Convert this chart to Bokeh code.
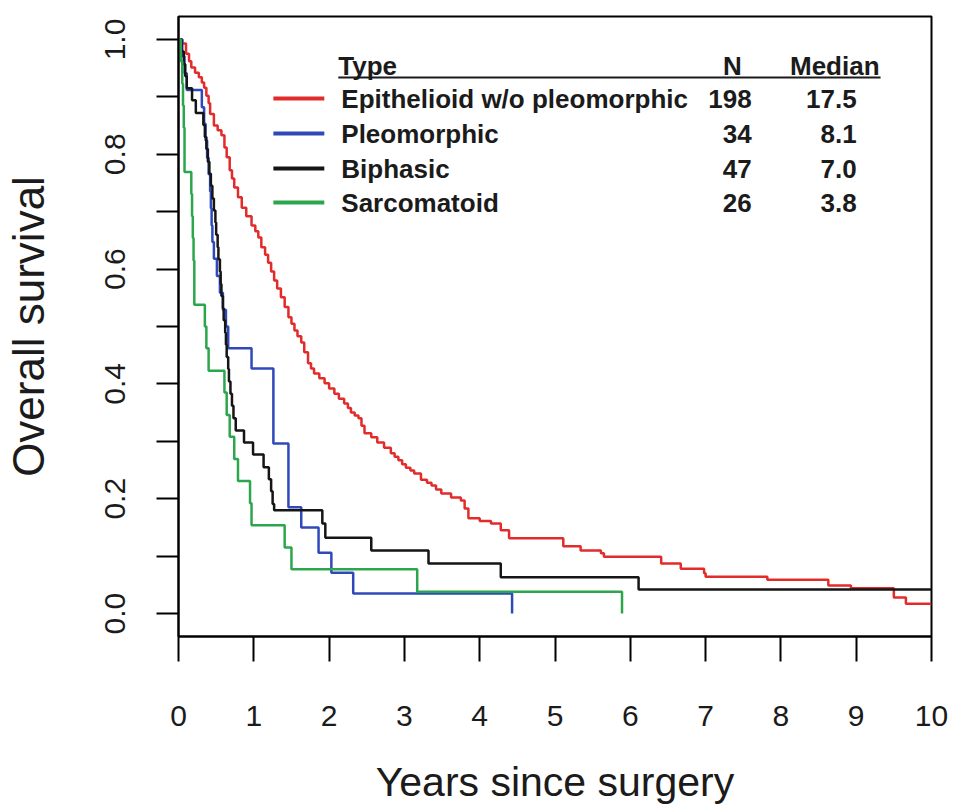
from bokeh.plotting import figure
from bokeh.models import Range1d, FixedTicker, PrintfTickFormatter, ColumnDataSource
from bokeh.embed import file_html
from bokeh.resources import INLINE
from bokeh.core.properties import value

# Kaplan-Meier estimates: years since surgery and overall survival after each step
epi_t = [0.00, 0.05, 0.10, 0.14, 0.17, 0.22, 0.27, 0.31, 0.34, 0.37, 0.40, 0.42, 0.47,
         0.52, 0.57, 0.61, 0.64, 0.68, 0.71, 0.74, 0.79, 0.84, 0.90, 0.97, 1.02, 1.06,
         1.10, 1.15, 1.19, 1.23, 1.27, 1.31, 1.36, 1.41, 1.46, 1.50, 1.54, 1.58, 1.63,
         1.67, 1.72, 1.76, 1.80, 1.87, 1.94, 2.00, 2.07, 2.13, 2.20, 2.25, 2.29, 2.34,
         2.39, 2.43, 2.47, 2.56, 2.64, 2.73, 2.82, 2.87, 2.92, 2.97, 3.02, 3.08, 3.13,
         3.22, 3.30, 3.36, 3.42, 3.49, 3.62, 3.75, 3.80, 3.85, 4.00, 4.15, 4.28, 4.39,
         5.11, 5.34, 5.61, 5.65, 6.41, 6.67, 6.98, 7.00, 7.82, 8.63, 8.93, 9.50, 9.66,
         10.00]
epi_s = [1.000, 0.993, 0.975, 0.962, 0.951, 0.942, 0.934, 0.925, 0.916, 0.902, 0.889,
         0.870, 0.850, 0.842, 0.833, 0.812, 0.795, 0.772, 0.758, 0.742, 0.725, 0.707,
         0.692, 0.676, 0.666, 0.655, 0.638, 0.625, 0.611, 0.596, 0.580, 0.566, 0.551,
         0.534, 0.516, 0.505, 0.493, 0.483, 0.472, 0.455, 0.436, 0.427, 0.418, 0.410,
         0.401, 0.392, 0.383, 0.374, 0.366, 0.358, 0.350, 0.345, 0.340, 0.327, 0.314,
         0.307, 0.298, 0.289, 0.279, 0.273, 0.267, 0.260, 0.254, 0.249, 0.244, 0.233,
         0.228, 0.223, 0.216, 0.209, 0.202, 0.197, 0.183, 0.166, 0.161, 0.157, 0.145,
         0.131, 0.117, 0.110, 0.105, 0.099, 0.087, 0.078, 0.070, 0.064, 0.059, 0.049,
         0.044, 0.028, 0.017, 0.017]

pleo_t = [0.00, 0.05, 0.08, 0.11, 0.31, 0.34, 0.36, 0.38, 0.40, 0.42, 0.43, 0.44, 0.45,
          0.47, 0.51, 0.55, 0.59, 0.63, 0.66, 0.97, 1.26, 1.46, 1.63, 1.86, 2.03, 2.32,
          4.43]
pleo_s = [1.000, 0.971, 0.941, 0.912, 0.882, 0.853, 0.824, 0.794, 0.765, 0.735, 0.706,
          0.676, 0.647, 0.618, 0.588, 0.559, 0.529, 0.500, 0.462, 0.427, 0.296, 0.185,
          0.150, 0.106, 0.071, 0.035, 0.000]

bi_t = [0.00, 0.04, 0.07, 0.09, 0.11, 0.18, 0.23, 0.33, 0.35, 0.37, 0.39, 0.41, 0.43,
        0.45, 0.47, 0.49, 0.50, 0.52, 0.53, 0.55, 0.56, 0.57, 0.59, 0.60, 0.62, 0.63,
        0.64, 0.66, 0.67, 0.69, 0.71, 0.73, 0.76, 0.87, 0.99, 1.13, 1.20, 1.23, 1.25,
        1.27, 1.91, 1.95, 2.56, 3.32, 4.28, 6.11, 10.00]
bi_s = [1.000, 0.979, 0.957, 0.936, 0.915, 0.894, 0.872, 0.851, 0.830, 0.809, 0.787,
        0.766, 0.745, 0.723, 0.702, 0.681, 0.660, 0.638, 0.617, 0.596, 0.574, 0.553,
        0.532, 0.511, 0.489, 0.468, 0.447, 0.426, 0.404, 0.383, 0.362, 0.340, 0.319,
        0.298, 0.277, 0.255, 0.234, 0.213, 0.191, 0.180, 0.157, 0.132, 0.110, 0.087,
        0.063, 0.042, 0.042]

sarc_t = [0.00, 0.03, 0.05, 0.06, 0.07, 0.08, 0.17, 0.18, 0.19, 0.20, 0.21, 0.35, 0.37,
          0.40, 0.61, 0.64, 0.68, 0.74, 0.79, 0.95, 0.97, 1.41, 1.50, 3.17, 5.89]
sarc_s = [1.000, 0.962, 0.923, 0.885, 0.846, 0.769, 0.731, 0.692, 0.654, 0.615, 0.538,
          0.500, 0.462, 0.423, 0.385, 0.346, 0.308, 0.269, 0.231, 0.192, 0.154, 0.115,
          0.077, 0.038, 0.000]

# Legend table
types = ["Epithelioid w/o pleomorphic", "Pleomorphic", "Biphasic", "Sarcomatoid"]
n_patients = ["198", "34", "47", "26"]
median_months = ["17.5", "8.1", "7.0", "3.8"]
colors = ["#e22b2b", "#2f49bb", "#151515", "#2ca64c"]

x_ticks = [0, 1, 2, 3, 4, 5, 6, 7, 8, 9, 10]
y_ticks = [0.0, 0.2, 0.4, 0.6, 0.8, 1.0]
y_minor_ticks = [0.1, 0.3, 0.5, 0.7, 0.9]

FONT = "Liberation Sans"
INK = "#1b1b1b"

# Page and plotting-frame geometry (pixels)
W, H = 966, 812
FL, FR, FT, FB = 177, 931, 16, 636
X0, X1 = 0.0, 10.0
Y0, Y1 = -0.04, 1.04


def dx(px):
    return X0 + (px - FL) / (FR - FL) * (X1 - X0)


def dy(py):
    return Y1 - (py - FT) / (FB - FT) * (Y1 - Y0)


p = figure(width=W, height=H, output_backend="svg", toolbar_location=None,
           x_range=Range1d(X0, X1), y_range=Range1d(Y0, Y1),
           min_border_left=FL, min_border_right=W - FR,
           min_border_top=FT, min_border_bottom=H - FB)
p.background_fill_color = "white"
p.border_fill_color = "white"
p.grid.visible = False
p.outline_line_color = "black"
p.outline_line_width = 2

# Axes
xa = p.xaxis[0]
xa.ticker = FixedTicker(ticks=x_ticks)
xa.axis_label = "Years since surgery"
ya = p.yaxis[0]
ya.ticker = FixedTicker(ticks=y_ticks, minor_ticks=y_minor_ticks)
ya.formatter = PrintfTickFormatter(format="%.1f")
ya.axis_label = "Overall survival"
ya.major_label_orientation = "vertical"

for ax in (xa, ya):
    ax.axis_line_color = "black"
    ax.axis_line_width = 2
    ax.major_tick_line_color = "black"
    ax.major_tick_line_width = 2
    ax.major_tick_in = 0
    ax.minor_tick_in = 0
    ax.major_label_text_font = FONT
    ax.major_label_text_font_size = "30px"
    ax.major_label_text_color = INK
    ax.axis_label_text_font = FONT
    ax.axis_label_text_font_style = "normal"
    ax.axis_label_text_color = INK

xa.axis_label_text_font_size = "41px"
ya.axis_label_text_font_size = "44px"

xa.major_tick_out = 25
xa.minor_tick_line_color = None
xa.major_label_standoff = 44
xa.axis_label_standoff = 30

ya.major_tick_out = 22
ya.minor_tick_out = 22
ya.minor_tick_line_color = "black"
ya.minor_tick_line_width = 2
ya.major_label_standoff = 31
ya.axis_label_standoff = 50

# Survival curves
curves = [(epi_t, epi_s), (pleo_t, pleo_s), (bi_t, bi_s), (sarc_t, sarc_s)]
for (t, s), c in zip(curves, colors):
    p.step(x=t, y=s, mode="after", line_color=c, line_width=2.5)

# Legend table: sample lines, labels, N and median columns
row_py = [98, 133, 168, 202]
rows_y = [dy(v) for v in row_py]
p.segment(x0=[dx(272)] * 4, x1=[dx(323)] * 4, y0=rows_y, y1=rows_y,
          line_color=colors, line_width=4)

head_y = dy(65)
p.text(x=[dx(337)], y=[head_y], text=["Type"], text_font=value(FONT),
       text_font_size="26px", text_font_style="bold", text_color=INK,
       text_baseline="middle", text_align="left")
p.text(x=[dx(741)], y=[head_y], text=["N"], text_font=value(FONT),
       text_font_size="26px", text_font_style="bold", text_color=INK,
       text_baseline="middle", text_align="right")
p.text(x=[dx(879)], y=[head_y], text=["Median"], text_font=value(FONT),
       text_font_size="26px", text_font_style="bold", text_color=INK,
       text_baseline="middle", text_align="right")
p.segment(x0=[dx(337)], x1=[dx(880)], y0=[dy(77)], y1=[dy(77)],
          line_color=INK, line_width=2)

src = ColumnDataSource(dict(y=rows_y, label=types, n=n_patients, med=median_months,
                            xl=[dx(340)] * 4, xn=[dx(751)] * 4, xm=[dx(856)] * 4))
common = dict(source=src, y="y", text_font=value(FONT), text_font_size="26px",
              text_font_style="bold", text_color=INK, text_baseline="middle")
p.text(x="xl", text="label", text_align="left", **common)
p.text(x="xn", text="n", text_align="right", **common)
p.text(x="xm", text="med", text_align="right", **common)

open("out.html", "w").write(file_html(p, INLINE))
